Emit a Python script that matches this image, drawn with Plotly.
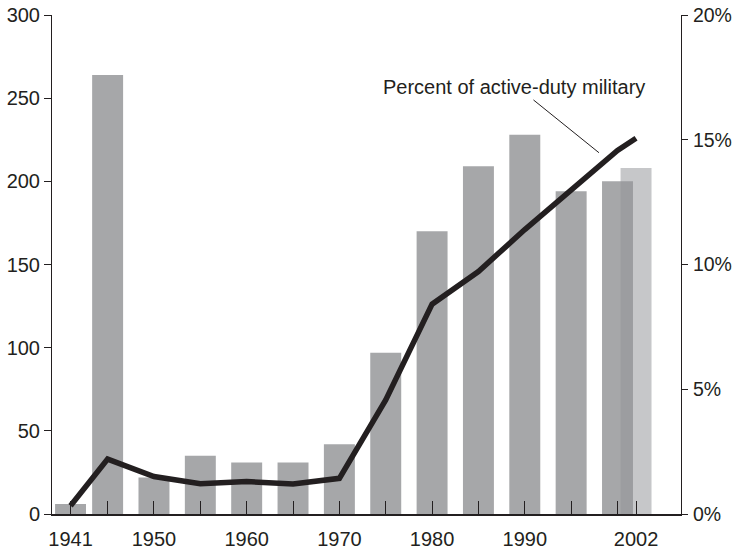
import plotly.graph_objects as go

years = [1941, 1945, 1950, 1955, 1960, 1965, 1970, 1975, 1980, 1985, 1990, 1995, 2000]
counts = [6, 264, 22, 35, 31, 31, 42, 97, 170, 209, 228, 194, 200]
year_2002 = [2002]
count_2002 = [208]
pct_years = [1941, 1945, 1950, 1955, 1960, 1965, 1970, 1975, 1980, 1985, 1990, 1995, 2000, 2002]
pct_values = [0.33, 2.2, 1.5, 1.21, 1.3, 1.2, 1.43, 4.57, 8.41, 9.72, 11.4, 13.0, 14.57, 15.06]
tick_years = [1941, 1945, 1950, 1955, 1960, 1965, 1970, 1975, 1980, 1985, 1990, 1995, 2000, 2002]
tick_text = ["1941", "", "1950", "", "1960", "", "1970", "", "1980", "", "1990", "", "", "2002"]
left_ticks = [0, 50, 100, 150, 200, 250, 300]
right_ticks = [0, 5, 10, 15, 20]
right_text = ["0%", "5%", "10%", "15%", "20%"]

FONT = "Liberation Sans"
TXT = "#231f20"
FS = 20

fig = go.Figure()
fig.add_trace(go.Bar(x=year_2002, y=count_2002, width=3.34,
                     marker=dict(color="#c6c7c9", line=dict(width=0)), showlegend=False))
fig.add_trace(go.Bar(x=years, y=counts, width=3.34,
                     marker=dict(color="rgba(147,148,151,0.825)", line=dict(width=0)), showlegend=False))
fig.add_trace(go.Scatter(x=pct_years, y=pct_values, yaxis="y2", mode="lines",
                         line=dict(color="#231f20", width=5.5), showlegend=False))

fig.update_layout(
    width=732, height=550,
    margin=dict(l=52, r=51, t=15, b=36),
    paper_bgcolor="white", plot_bgcolor="white",
    barmode="overlay",
    font=dict(family=FONT, size=FS, color=TXT),
    xaxis=dict(range=[1939.0, 2006.85], tickvals=tick_years, ticktext=tick_text,
               ticks="inside", ticklen=13, tickwidth=1.2, tickcolor=TXT,
               showline=True, linecolor=TXT, linewidth=1.5, showgrid=False,
               zeroline=False, tickfont=dict(size=FS), automargin=False,
               ticklabelstandoff=6),
    yaxis=dict(range=[0, 300], tickvals=left_ticks,
               ticks="outside", ticklen=7, tickwidth=1, tickcolor=TXT,
               showline=True, linecolor=TXT, linewidth=1, showgrid=False,
               zeroline=False, tickfont=dict(size=FS), automargin=False),
    yaxis2=dict(range=[0, 20], overlaying="y", side="right",
                tickvals=right_ticks, ticktext=right_text,
                ticks="outside", ticklen=6, tickwidth=1, tickcolor=TXT,
                showline=True, linecolor=TXT, linewidth=1, showgrid=False,
                zeroline=False, tickfont=dict(size=19.5), automargin=False,
                ticklabelstandoff=1),
    annotations=[
        dict(text="Percent of active-duty military", xref="paper", yref="paper",
             x=0.7345, y=0.856, showarrow=False, font=dict(size=FS, color=TXT),
             xanchor="center", yanchor="middle"),
        dict(text="", xref="x", yref="y2", x=1998.0, y=14.48, ax=-67, ay=-54,
             showarrow=True, arrowhead=0, arrowwidth=1, arrowcolor=TXT, standoff=0),
    ],
)

fig.write_html("out.html", config={"displayModeBar": False},
               post_script="document.body.style.margin='0';document.body.style.overflow='hidden';")
